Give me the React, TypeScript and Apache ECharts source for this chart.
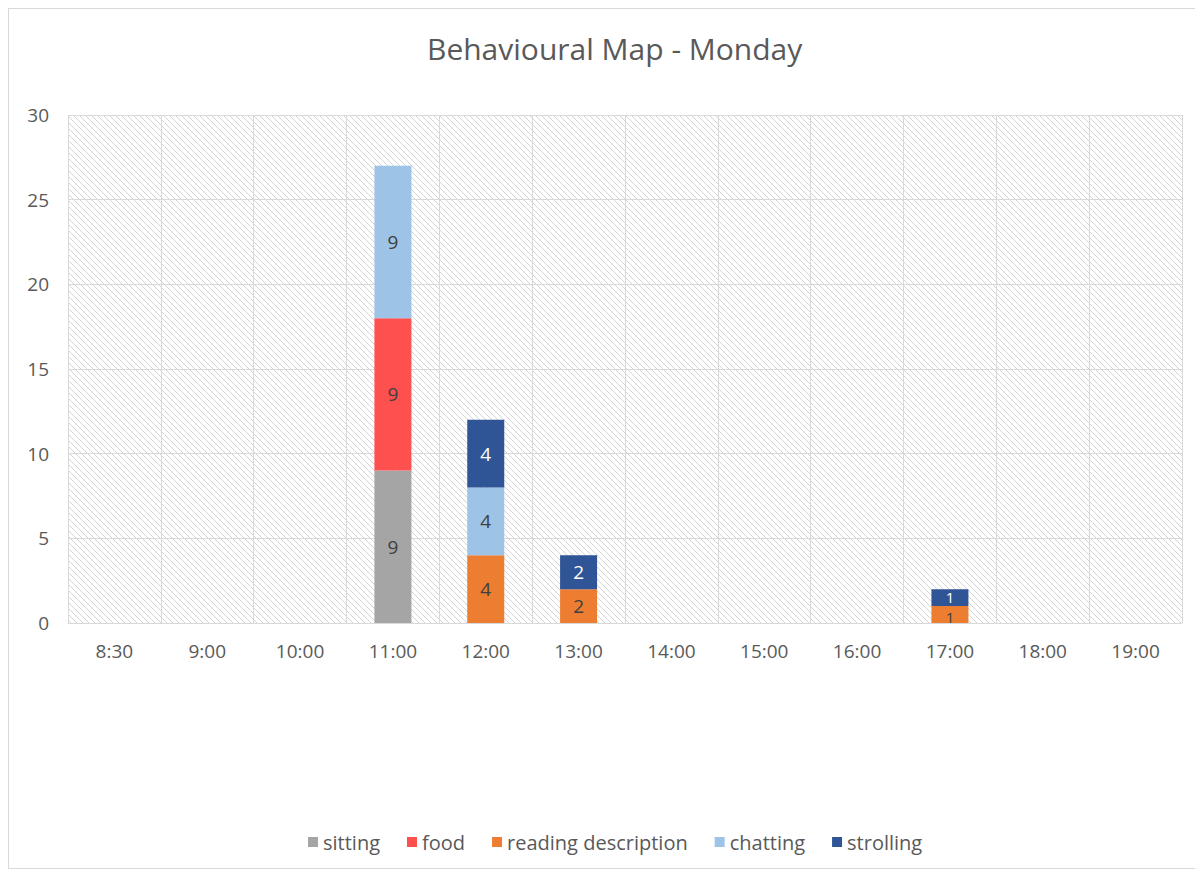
import React, { useEffect, useRef } from "react";
import * as echarts from "echarts";

const titleText = "Behavioural Map - Monday";
const categories = ["8:30", "9:00", "10:00", "11:00", "12:00", "13:00", "14:00", "15:00", "16:00", "17:00", "18:00", "19:00"];
const sitting = [null, null, null, 9, null, null, null, null, null, null, null, null];
const food = [null, null, null, 9, null, null, null, null, null, null, null, null];
const reading = [null, null, null, null, 4, 2, null, null, null, 1, null, null];
const chatting = [null, null, null, 9, 4, null, null, null, null, null, null, null];
const strolling = [null, null, null, null, 4, 2, null, null, null, 1, null, null];
const seriesNames = ["sitting", "food", "reading description", "chatting", "strolling"];
const seriesColors = ["#A5A5A5", "#FF5050", "#ED7D31", "#9DC3E6", "#2F5597"];
const labelColors = ["#404040", "#404040", "#404040", "#404040", "#FFFFFF"];
const yTicks = { min: 0, max: 30, interval: 5 };

const FONT = "'Open Sans', 'Noto Sans', sans-serif";

function makeHatch() {
  const size = 6;
  const c = document.createElement("canvas");
  c.width = size;
  c.height = size;
  const ctx = c.getContext("2d")!;
  ctx.fillStyle = "#ffffff";
  ctx.fillRect(0, 0, size, size);
  ctx.strokeStyle = "#d4d4d4";
  ctx.lineWidth = 1;
  ctx.beginPath();
  ctx.moveTo(-1, -1);
  ctx.lineTo(size + 1, size + 1);
  ctx.moveTo(-1, size - 1);
  ctx.lineTo(1, size + 1);
  ctx.moveTo(size - 1, -1);
  ctx.lineTo(size + 1, 1);
  ctx.stroke();
  return c;
}

export default function App() {
  const ref = useRef<HTMLDivElement>(null);
  useEffect(() => {
    document.body.style.overflow = "hidden";
    const chart = echarts.init(ref.current!, null, { renderer: "svg" });
    const hatch = makeHatch();
    const dataSets = [sitting, food, reading, chatting, strolling];
    chart.setOption({
      animation: false,
      title: {
        text: titleText,
        left: 413,
        top: 19,
        textStyle: { fontFamily: FONT, fontSize: 30, fontWeight: "normal", color: "#595959" },
      },
      legend: {
        top: 818,
        left: 294,
        itemWidth: 10,
        itemHeight: 10,
        itemGap: 27,
        icon: "rect",
        textStyle: { fontFamily: FONT, fontSize: 20, color: "#595959" },
        data: seriesNames,
      },
      grid: {
        left: 59,
        top: 106,
        width: 1114,
        height: 508,
        show: true,
        borderWidth: 0,
        backgroundColor: { image: hatch, repeat: "repeat", imageWidth: 6, imageHeight: 6 },
      },
      xAxis: {
        type: "category",
        data: categories,
        axisLine: { show: true, lineStyle: { color: "#d9d9d9", width: 1 } },
        axisTick: { show: false },
        axisLabel: { margin: 18, fontFamily: FONT, fontSize: 19, color: "#595959", interval: 0 },
        splitLine: { show: true, interval: 0, lineStyle: { color: "#d9d9d9", width: 1 } },
      },
      yAxis: {
        type: "value",
        min: yTicks.min,
        max: yTicks.max,
        interval: yTicks.interval,
        axisLine: { show: false },
        axisTick: { show: false },
        axisLabel: { margin: 19, fontFamily: FONT, fontSize: 19, color: "#595959" },
        splitLine: { show: true, lineStyle: { color: "#d9d9d9", width: 1 } },
      },
      series: seriesNames.map((name, i) => ({
        name,
        type: "bar",
        stack: "total",
        barWidth: 37,
        data: dataSets[i].map((v) =>
          v !== null && v < 2
            ? {
                value: v,
                label: { fontSize: 15, lineHeight: 15, offset: i === 2 ? [0, 2] : [0, -1] },
              }
            : v
        ),
        itemStyle: { color: seriesColors[i] },
        label: {
          show: true,
          position: "inside",
          fontFamily: FONT,
          fontSize: 19,
          color: labelColors[i],
          formatter: (p: any) => (p.value ? String(p.value) : ""),
        },
      })),
    });
    return () => chart.dispose();
  }, []);
  return (
    <div
      style={{
        width: 1195,
        height: 861,
        border: "1px solid #d9d9d9",
        boxSizing: "border-box",
        background: "#fff",
      }}
    >
      <div ref={ref} style={{ width: 1193, height: 859 }} />
    </div>
  );
}
